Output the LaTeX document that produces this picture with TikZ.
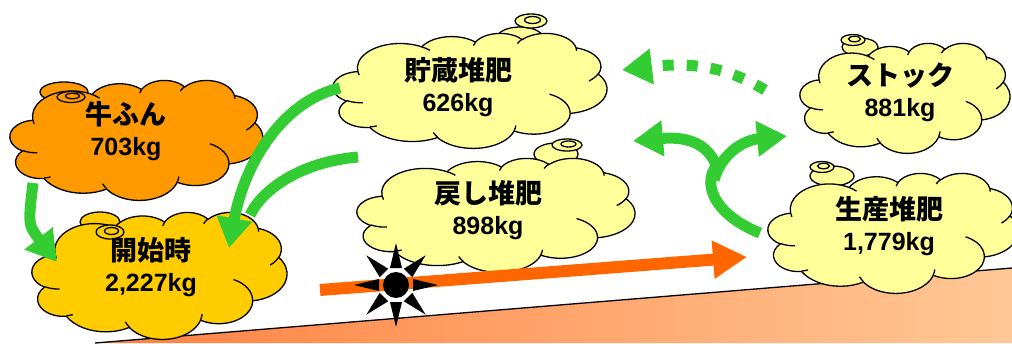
\documentclass[tikz,border=0pt]{standalone}
\usepackage{fontspec}
\usepackage{tikz}
\usetikzlibrary{arrows.meta}

\newfontfamily\jpfont{Noto Sans CJK JP}
\newfontfamily\numfont{Liberation Sans}

\definecolor{dung}{HTML}{FF9900}
\definecolor{gold}{HTML}{FFCC00}
\definecolor{pale}{HTML}{FFFF99}
\definecolor{leaf}{HTML}{33CC33}
\definecolor{heat}{HTML}{FF6600}
\definecolor{soilL}{HTML}{FF8040}
\definecolor{soilR}{HTML}{FFC896}

\newcommand{\kg}[1]{{\numfont\bfseries\fontsize{25}{31}\selectfont #1}}

% elliptic arc given by radii, start angle and sweep as seen on the page
\newcommand{\puff}[4]{%
	\pgfextra{%
		\pgfmathsetmacro\tA{atan2(#1*sin(#3),#2*cos(#3))}%
		\pgfmathsetmacro\tB{atan2(#1*sin(#3+#4),#2*cos(#3+#4))}%
		\pgfmathsetmacro\tB{\tB<\tA ? \tB+360 : \tB}%
		\global\let\tA\tA \global\let\tB\tB}%
	arc[x radius=#1, y radius=#2, start angle=\tA, end angle=\tB]}

% heap: name, left, top, width, height, colour
\newcommand{\heap}[6]{%
	\pgfmathsetmacro\hx{#4/432}%
	\pgfmathsetmacro\hy{#5/432}%
	\begin{scope}[shift={(#2,#3)}, x=\hx pt, y=-\hy pt]
		\filldraw[heapline, fill=#6] (39.00,143.70)
			\puff{67.53}{91.90}{-190.48748}{123.78053}
			\puff{53.33}{72.67}{-144.10238}{89.94523}
			\puff{43.65}{59.45}{-145.80792}{99.72302}
			\puff{48.57}{65.95}{-130.98607}{117.24173}
			\puff{53.33}{72.73}{-78.70888}{109.02692}
			\puff{67.75}{92.20}{-46.26725}{130.269}
			\puff{57.85}{78.67}{0.62502}{114.03333}
			\puff{67.52}{92.15}{22.4516}{115.17255}
			\puff{77.20}{105.43}{66.24263}{75.71102}
			\puff{43.60}{59.18}{-274.94208}{146.73557}
			\puff{43.45}{59.45}{-246.8285}{152.51885} -- cycle;
		\draw[heapline] (46.93,261.77) \puff{43.45}{59.45}{86.742}{26.4295}
			(69.28,348.99) \puff{43.60}{59.18}{73.6105}{11.4475}
			(164.78,390.90) \puff{67.52}{92.15}{137.6242}{14.0811}
			(288.27,347.51) \puff{67.52}{92.15}{6.4533}{15.9984}
			(341.29,229.54) \puff{57.85}{78.67}{-70.2924}{70.9174}
			(417.98,153.54) \puff{53.33}{72.73}{30.318}{27.7515}
			(383.24,54.26) \puff{48.57}{65.95}{-13.7443}{14.8589}
			(290.78,39.52) \puff{48.57}{65.95}{-149.1815}{18.1954}
			(221.41,47.20) \puff{43.65}{59.45}{-163.4943}{17.6864}
			(140.00,51.92) \puff{67.53}{91.90}{-66.707}{12.3194}
			(41.27,157.89) \puff{67.53}{91.90}{157.6544}{11.8582};
		\coordinate (#1) at (216,216);
	\end{scope}}

\tikzset{
	heapline/.style={draw=black, line width=1.3pt},
	lbl/.style={align=center, inner sep=0pt, font=\jpfont\bfseries\fontsize{27}{31}\selectfont},
	flow/.style={leaf, line width=11pt, -{Triangle[width=34pt,length=30pt]}},
}

\begin{document}
\begin{tikzpicture}[x=1pt,y=-1pt]

	\useasboundingbox (0,0) rectangle (1012,343);

	% ground
	\shade[left color=soilL, right color=soilR] (95,343) -- (1012,268) -- (1012,343) -- cycle;
	\draw[line width=1.3pt] (95,343) -- (1012,268);

	% bumps behind the heaps
	\filldraw[heapline, fill=dung] (64,92) ellipse [x radius=24pt, y radius=10pt];
	\filldraw[heapline, fill=gold] (100,222) ellipse [x radius=20pt, y radius=10pt];
	\filldraw[heapline, fill=pale] (520,38) ellipse [x radius=23pt, y radius=11pt];
	\filldraw[heapline, fill=pale] (556,154) ellipse [x radius=22pt, y radius=11pt];
	\filldraw[heapline, fill=pale] (860,47) ellipse [x radius=18pt, y radius=9pt];
	\filldraw[heapline, fill=pale] (832,176) ellipse [x radius=22pt, y radius=10pt];

	% heaps
	\heap{cow}{10}{80}{253}{120}{dung}
	\heap{start}{32}{212}{255}{127}{gold}
	\heap{store}{333}{33}{274}{115}{pale}
	\heap{back}{357}{158}{278}{114}{pale}
	\heap{stock}{800}{43}{210}{110}{pale}
	\heap{prod}{768}{173}{250}{120}{pale}

	% rings on the bumps
	\foreach \x/\y/\rx/\ry/\c in {71/97/14/5.5/dung, 110/232/14/7/gold, 531/21/16/7/pale, 567/145/15/6/pale, 853/40/12/5.5/pale, 822/167/12/5.5/pale}{
		\filldraw[heapline, fill=\c] (\x,\y) ellipse [x radius=\rx pt, y radius=\ry pt];
		\draw[heapline] (\x+1.5,\y-1) ellipse [x radius=0.5*\rx pt, y radius=0.5*\ry pt];
	}

	% labels
	\node[lbl] (cowTxt) at (126,131) {牛ふん\\\kg{703kg}};
	\node[lbl] (startTxt) at (151,267) {開始時\\\kg{2,227kg}};
	\node[lbl] (storeTxt) at (458,87) {貯蔵堆肥\\\kg{626kg}};
	\node[lbl] (backTxt) at (488,210) {戻し堆肥\\\kg{898kg}};
	\node[lbl] (stockTxt) at (900,92) {ストック\\\kg{881kg}};
	\node[lbl] (prodTxt) at (889,226) {生産堆肥\\\kg{1,779kg}};

	% arrow ends
	\coordinate (cowOut) at (33,183);
	\coordinate (startL) at (57,262);
	\coordinate (startR) at (229,248);
	\coordinate (storeOut) at (340,88);
	\coordinate (backOut) at (358,157);
	\coordinate (merge) at (250,215);
	\coordinate (prodOut) at (760,233);
	\coordinate (fork) at (720,162);
	\coordinate (toStore) at (633,141);
	\coordinate (toStock) at (787,136);
	\coordinate (stockOut) at (765,90);
	\coordinate (stockBack) at (622,70);
	\coordinate (heatA) at (320,290);
	\coordinate (heatB) at (747,257);

	% green flows
	\draw[flow] (cowOut) .. controls (28,225) .. (startL);
	\draw[leaf, line width=11pt] (backOut) .. controls (300,162) and (262,190) .. (merge);
	\draw[flow] (storeOut) .. controls (285,100) and (245,160) .. (startR);
	\draw[leaf, line width=11pt] (prodOut) .. controls (712,214) and (700,180) .. (fork);
	\draw[flow] (718,170) .. controls (710,145) and (690,136) .. (toStore);
	\draw[flow] (714,180) .. controls (722,152) and (745,140) .. (toStock);
	\draw[flow, dash pattern=on 11pt off 13pt] (stockOut) .. controls (725,66) and (690,62) .. (stockBack);

	% heat
	\draw[heat, line width=12pt, -{Triangle[width=36pt,length=34pt]}] (heatA) -- (heatB);
	\fill (396,285) circle [radius=13pt];
	\foreach \a in {0,45,...,315}
		\fill[shift={(396,285)}, rotate=\a] (17,-6) -- (42,0) -- (17,6) -- cycle;

\end{tikzpicture}
\end{document}
